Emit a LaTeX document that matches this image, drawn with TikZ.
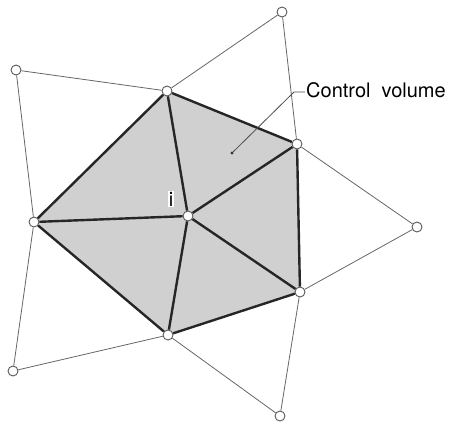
\documentclass[tikz,border=0pt]{standalone}
\usepackage{fontspec}
\setsansfont{TeX Gyre Heros}
\usepackage{xcolor}
\usepackage{tikz}
\usetikzlibrary{positioning,backgrounds}
\definecolor{cvgray}{RGB}{208,208,208}

\begin{document}
\begin{tikzpicture}[x=1pt, y=-1pt,
  vertex/.style={draw=black!65, fill=white, circle, inner sep=0pt, minimum size=10pt, line width=0.9pt},
  meshedge/.style={draw=black!60, line width=0.8pt},
  cvedge/.style={draw=black!85, line width=2.4pt},
  leader/.style={draw=black!70, line width=0.8pt},
  every node/.style={font=\sffamily\fontsize{20}{24}\selectfont}
]
\useasboundingbox (0,0) rectangle (449,424);

% control volume vertices
\node[vertex] (ctr) at (188,216) {};
\node[vertex] (ptop) at (167,91) {};
\node[vertex] (pright) at (297,144) {};
\node[vertex] (plowright) at (300,292) {};
\node[vertex] (pbottom) at (168,335) {};
\node[vertex] (pleft) at (34,222) {};

% outer vertices
\node[vertex] (qtopright) at (282,12) {};
\node[vertex] (qtopleft) at (16,70) {};
\node[vertex] (qright) at (417,227) {};
\node[vertex] (qbotleft) at (13,371) {};
\node[vertex] (qbotright) at (280,416) {};

\begin{pgfonlayer}{background}
\fill[cvgray] (ptop.center) -- (pright.center) -- (plowright.center) -- (pbottom.center) -- (pleft.center) -- cycle;
\end{pgfonlayer}

% outer triangles
\draw[meshedge] (ptop) -- (qtopright) -- (pright);
\draw[meshedge] (pleft) -- (qtopleft) -- (ptop);
\draw[meshedge] (pright) -- (qright) -- (plowright);
\draw[meshedge] (pbottom) -- (qbotright) -- (plowright);
\draw[meshedge] (pleft) -- (qbotleft) -- (pbottom);

% control volume
\draw[cvedge] (ptop) -- (pright);
\draw[cvedge] (pright) -- (plowright);
\draw[cvedge] (plowright) -- (pbottom);
\draw[cvedge] (pbottom) -- (pleft);
\draw[cvedge] (pleft) -- (ptop);
\foreach \p in {ptop,pright,plowright,pbottom,pleft}
  \draw[cvedge] (ctr) -- (\p);

\node[fill=white, inner sep=1pt] (ilabel) at (171,199) {i};

\node[anchor=west, inner sep=1pt] (cvlabel) at (305,90) {Control\hspace{0.55em}volume};
\node[circle, fill=black!80, inner sep=1.1pt] (cvdot) at (232,153) {};
\coordinate (cvbend) at (294,92);
\draw[leader] (cvlabel.west |- cvbend) -- (cvbend) -- (cvdot);

\end{tikzpicture}
\end{document}
